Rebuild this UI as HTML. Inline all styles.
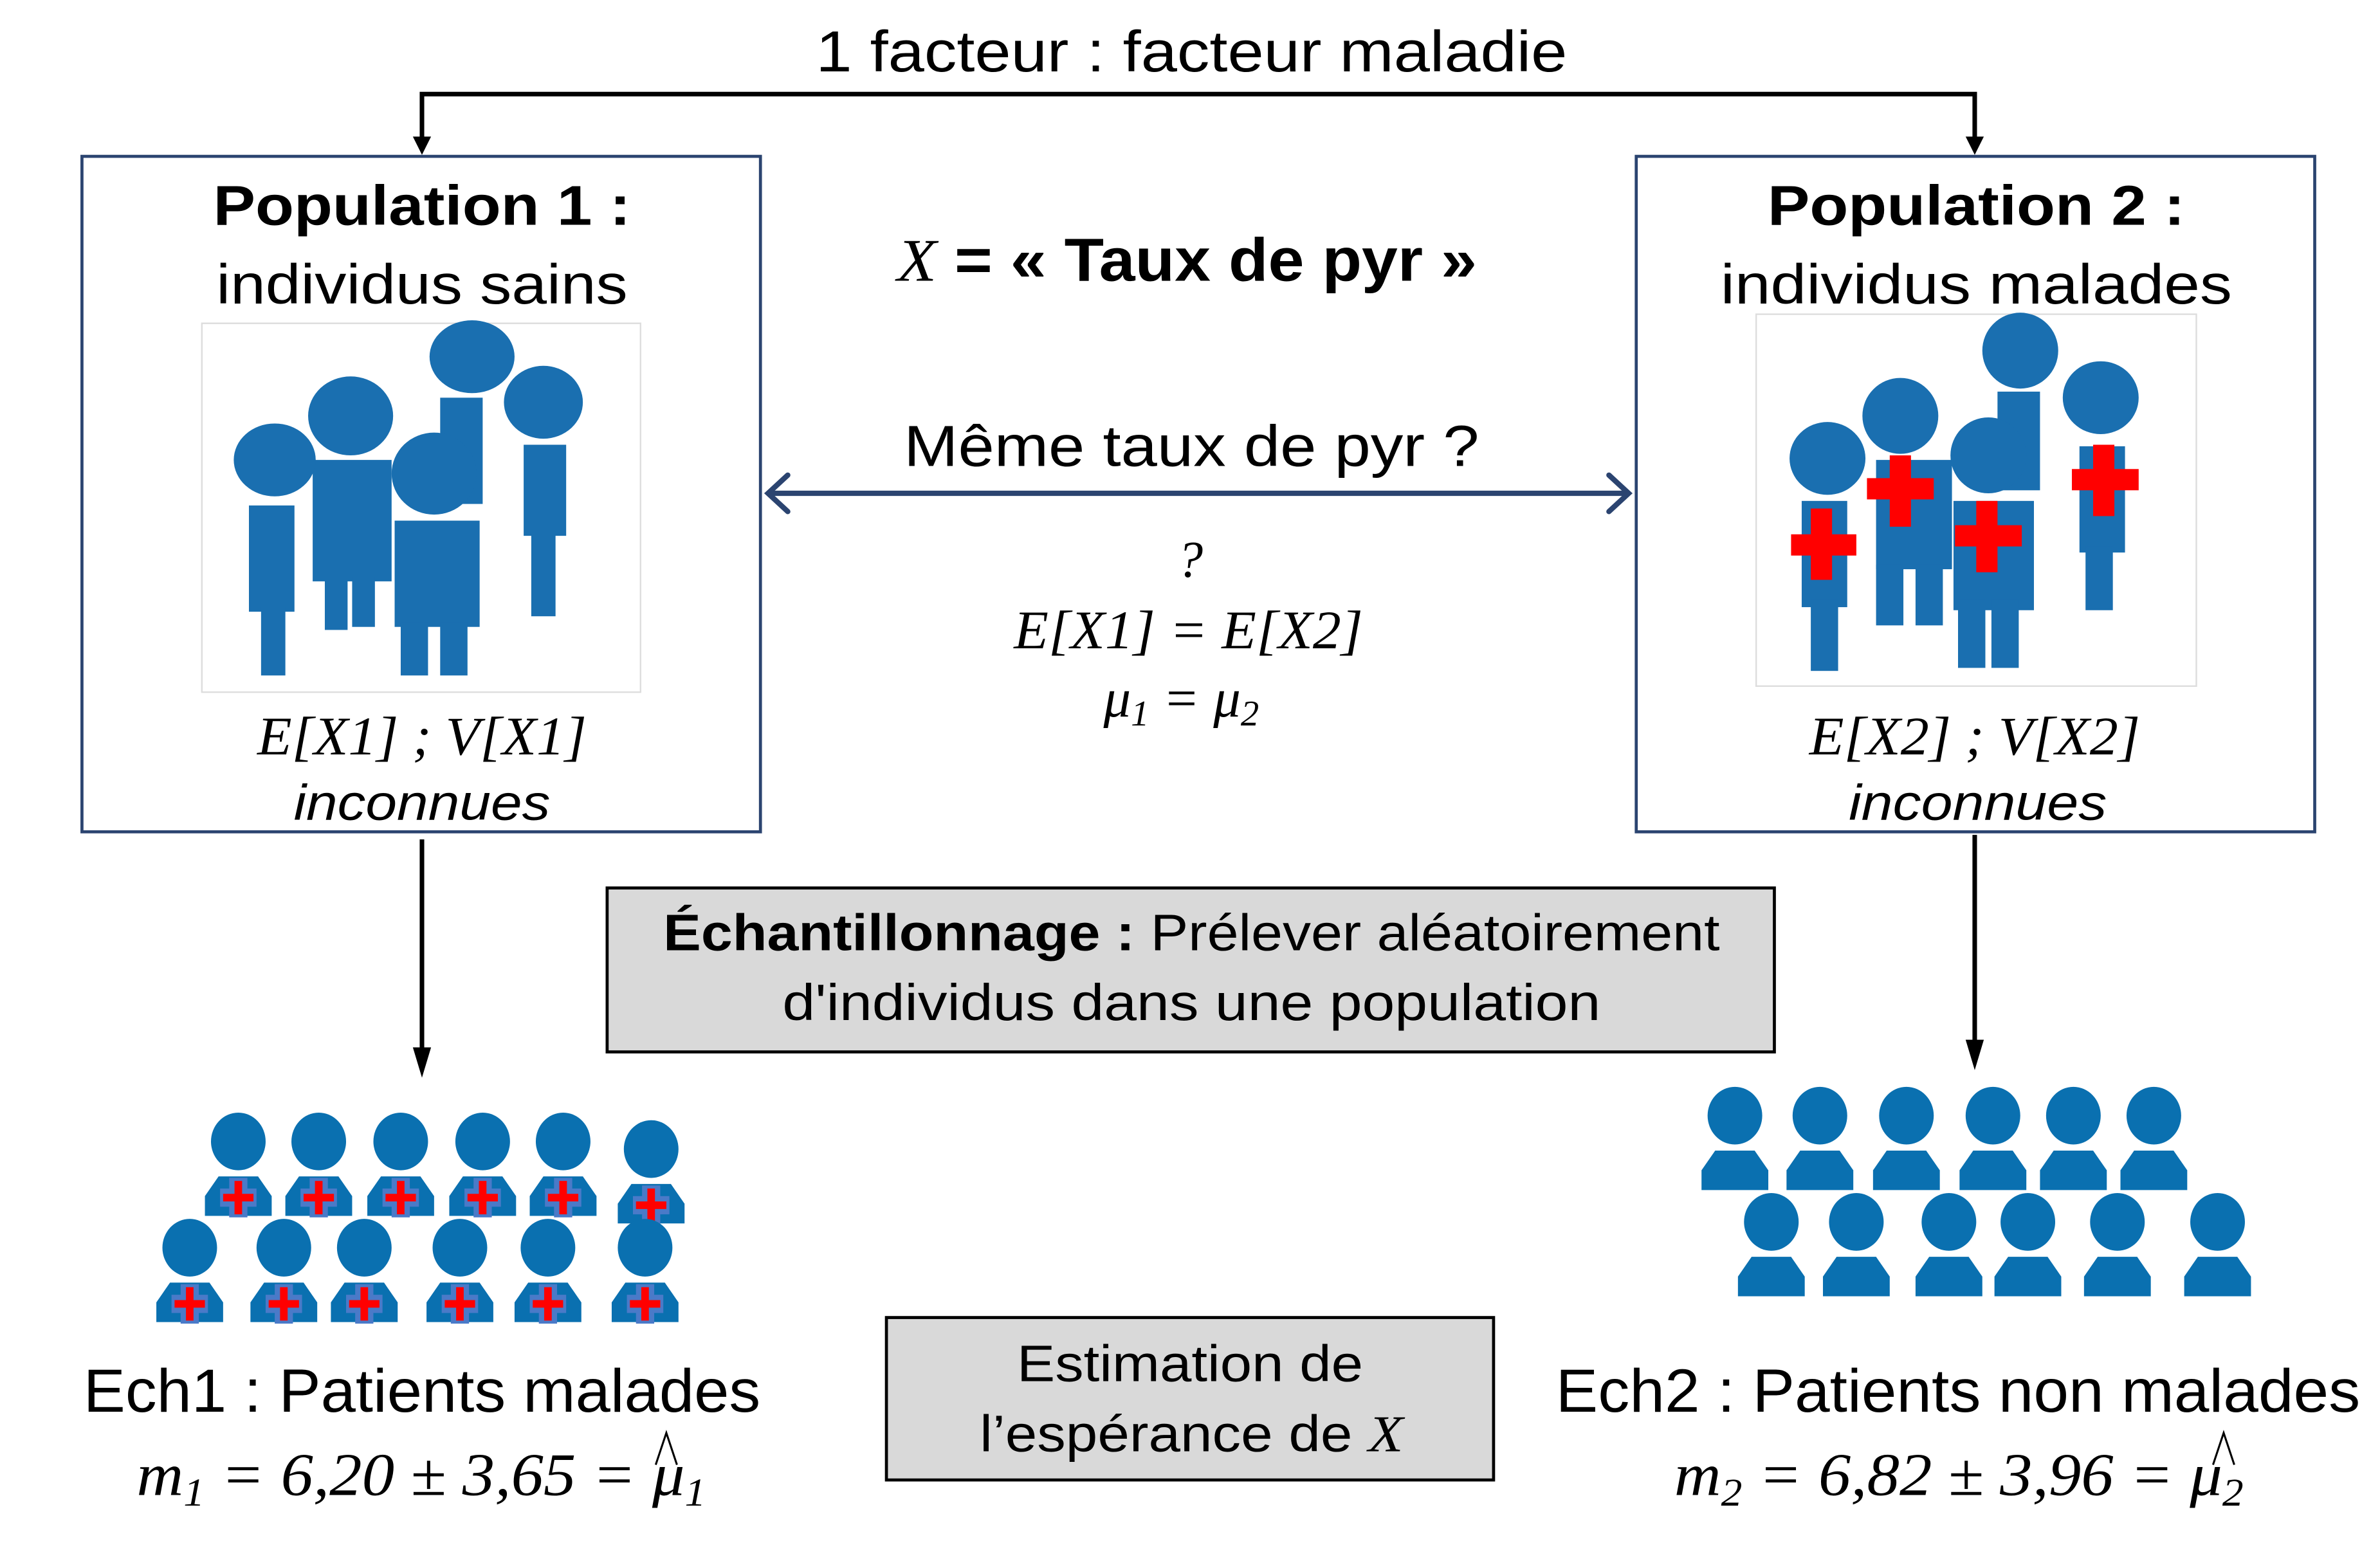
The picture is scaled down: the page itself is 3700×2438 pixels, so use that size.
<!DOCTYPE html>
<html><head><meta charset="utf-8"><style>
html,body{margin:0;padding:0;background:#fff;}
svg{display:block;}
.s{font-family:"Liberation Sans",sans-serif;}
.m{font-family:"Liberation Serif",serif;font-style:italic;}
</style></head><body>
<svg width="3700" height="2438" viewBox="0 0 1568 1033" preserveAspectRatio="none" xmlns="http://www.w3.org/2000/svg">
<defs>
<g id="p"><ellipse cx="0" cy="0" rx="18" ry="19" fill="#0a70b0"/><path d="M-13,23 L13,23 L22,36 L22,49 L-22,49 L-22,36 Z" fill="#0a70b0"/></g>
<g id="pc"><use href="#p"/><rect x="-6" y="24" width="12" height="26" fill="#4a7ac8"/><rect x="-12" y="31" width="24" height="12" fill="#4a7ac8"/><rect x="-2.5" y="26" width="5" height="22" fill="#f00"/><rect x="-10" y="34.5" width="20" height="5" fill="#f00"/></g>
</defs>
<rect width="1568" height="1033" fill="#fff"/>

<text x="785" y="47" class="s" font-size="38" text-anchor="middle" textLength="495" lengthAdjust="spacingAndGlyphs">1 facteur : facteur maladie</text>
<path d="M278,99 L278,62 L1301,62 L1301,99" fill="none" stroke="#000" stroke-width="3"/>
<path d="M272,90 L284,90 L278,102 Z M1295,90 L1307,90 L1301,102 Z" fill="#000"/>

<rect x="54" y="103" width="447" height="445" fill="none" stroke="#2b4470" stroke-width="2"/>
<rect x="1078" y="103" width="447" height="445" fill="none" stroke="#2b4470" stroke-width="2"/>

<text x="278" y="148" class="s" font-size="37" font-weight="bold" text-anchor="middle" textLength="275" lengthAdjust="spacingAndGlyphs">Population 1 :</text>
<text x="278" y="200" class="s" font-size="37" text-anchor="middle" textLength="271" lengthAdjust="spacingAndGlyphs">individus sains</text>
<text x="1302" y="148" class="s" font-size="37" font-weight="bold" text-anchor="middle" textLength="275" lengthAdjust="spacingAndGlyphs">Population 2 :</text>
<text x="1302" y="200" class="s" font-size="37" text-anchor="middle" textLength="337" lengthAdjust="spacingAndGlyphs">individus malades</text>

<rect x="133" y="213" width="289" height="243" fill="#fff" stroke="#ddd" stroke-width="1"/>
<g fill="#1a6fb0">
<ellipse cx="311" cy="235" rx="28" ry="24"/><rect x="290" y="262" width="28" height="70"/>
<ellipse cx="231" cy="274" rx="28" ry="26"/><rect x="206" y="303" width="52" height="80"/><rect x="214" y="380" width="15" height="35"/><rect x="232" y="380" width="15" height="33"/>
<ellipse cx="358" cy="265" rx="26" ry="24"/><rect x="345" y="293" width="28" height="60"/><rect x="350" y="350" width="16" height="56"/>
<ellipse cx="181" cy="303" rx="27" ry="24"/><rect x="164" y="333" width="30" height="70"/><rect x="172" y="400" width="16" height="45"/>
<ellipse cx="286" cy="312" rx="28" ry="27"/><rect x="260" y="343" width="56" height="70"/><rect x="264" y="410" width="18" height="35"/><rect x="290" y="410" width="18" height="35"/>
</g>

<rect x="1157" y="207" width="290" height="245" fill="#fff" stroke="#ddd" stroke-width="1"/>
<g fill="#1a6fb0">
<ellipse cx="1331" cy="231" rx="25" ry="25"/><rect x="1316" y="258" width="28" height="65"/>
<ellipse cx="1252" cy="274" rx="25" ry="25"/><rect x="1236" y="303" width="50" height="72"/><rect x="1236" y="372" width="18" height="40"/><rect x="1262" y="372" width="18" height="40"/>
<ellipse cx="1384" cy="262" rx="25" ry="24"/><rect x="1370" y="294" width="30" height="70"/><rect x="1374" y="360" width="18" height="42"/>
<ellipse cx="1204" cy="302" rx="25" ry="24"/><rect x="1187" y="330" width="30" height="70"/><rect x="1193" y="395" width="18" height="47"/>
<ellipse cx="1310" cy="300" rx="25" ry="25"/><rect x="1287" y="330" width="53" height="72"/><rect x="1290" y="395" width="18" height="45"/><rect x="1312" y="395" width="18" height="45"/>
</g>
<g fill="#f00">
<rect x="1193" y="335" width="14" height="47"/><rect x="1180" y="352" width="43" height="14"/>
<rect x="1245" y="300" width="14" height="47"/><rect x="1230" y="315" width="44" height="14"/>
<rect x="1302" y="330" width="14" height="47"/><rect x="1288" y="346" width="44" height="14"/>
<rect x="1379" y="293" width="14" height="47"/><rect x="1365" y="309" width="44" height="14"/>
</g>

<text x="278" y="497" class="m" font-size="36" text-anchor="middle" textLength="217" lengthAdjust="spacingAndGlyphs">E[X1] ; V[X1]</text>
<text x="278" y="540" class="s" font-size="33" font-style="italic" text-anchor="middle" textLength="169" lengthAdjust="spacingAndGlyphs">inconnues</text>
<text x="1301" y="497" class="m" font-size="36" text-anchor="middle" textLength="218" lengthAdjust="spacingAndGlyphs">E[X2] ; V[X2]</text>
<text x="1303" y="540" class="s" font-size="33" font-style="italic" text-anchor="middle" textLength="170" lengthAdjust="spacingAndGlyphs">inconnues</text>

<text x="591" y="185" font-size="40" textLength="382" lengthAdjust="spacingAndGlyphs"><tspan class="m">X</tspan><tspan class="s" font-weight="bold"> = « Taux de pyr »</tspan></text>
<text x="785" y="307" class="s" font-size="38" text-anchor="middle" textLength="379" lengthAdjust="spacingAndGlyphs">Même taux de pyr ?</text>
<line x1="506" y1="325" x2="1073" y2="325" stroke="#2b4470" stroke-width="3.5"/>
<path d="M519,313 L506,325 L519,337 M1060,313 L1073,325 L1060,337" fill="none" stroke="#2b4470" stroke-width="3.5" stroke-linecap="round"/>
<text x="784" y="380" class="m" font-size="34" text-anchor="middle">?</text>
<text x="783" y="427" class="m" font-size="36" text-anchor="middle" textLength="230" lengthAdjust="spacingAndGlyphs">E[X1] = E[X2]</text>
<text x="727" y="472" class="m" font-size="36">μ<tspan font-size="24" dy="6">1</tspan><tspan dy="-6"> = μ</tspan><tspan font-size="24" dy="6">2</tspan></text>

<line x1="278" y1="553" x2="278" y2="700" stroke="#000" stroke-width="3"/>
<path d="M272,690 L284,690 L278,710 Z" fill="#000"/>
<line x1="1301" y1="550" x2="1301" y2="695" stroke="#000" stroke-width="3"/>
<path d="M1295,685 L1307,685 L1301,705 Z" fill="#000"/>

<rect x="400" y="585" width="769" height="108" fill="#d9d9d9" stroke="#000" stroke-width="2"/>
<text x="785" y="626" class="s" font-size="34" text-anchor="middle" textLength="696" lengthAdjust="spacingAndGlyphs"><tspan font-weight="bold">Échantillonnage :</tspan> Prélever aléatoirement</text>
<text x="785" y="672" class="s" font-size="34" text-anchor="middle" textLength="539" lengthAdjust="spacingAndGlyphs">d'individus dans une population</text>
<rect x="584" y="868" width="400" height="107" fill="#d9d9d9" stroke="#000" stroke-width="2"/>
<text x="784" y="910" class="s" font-size="34" text-anchor="middle" textLength="228" lengthAdjust="spacingAndGlyphs">Estimation de</text>
<text x="785" y="956" font-size="34" text-anchor="middle" textLength="279" lengthAdjust="spacingAndGlyphs"><tspan class="s">l’espérance de </tspan><tspan class="m">X</tspan></text>

<use href="#pc" x="157" y="752"/><use href="#pc" x="210" y="752"/><use href="#pc" x="264" y="752"/><use href="#pc" x="318" y="752"/><use href="#pc" x="371" y="752"/><use href="#pc" x="429" y="757"/>
<use href="#pc" x="125" y="822"/><use href="#pc" x="187" y="822"/><use href="#pc" x="240" y="822"/><use href="#pc" x="303" y="822"/><use href="#pc" x="361" y="822"/><use href="#pc" x="425" y="822"/>
<use href="#p" x="1143" y="735"/><use href="#p" x="1199" y="735"/><use href="#p" x="1256" y="735"/><use href="#p" x="1313" y="735"/><use href="#p" x="1366" y="735"/><use href="#p" x="1419" y="735"/>
<use href="#p" x="1167" y="805"/><use href="#p" x="1223" y="805"/><use href="#p" x="1284" y="805"/><use href="#p" x="1336" y="805"/><use href="#p" x="1395" y="805"/><use href="#p" x="1461" y="805"/>

<text x="278" y="930" class="s" font-size="40" text-anchor="middle" textLength="446" lengthAdjust="spacingAndGlyphs">Ech1 : Patients malades</text>
<text x="90" y="985" class="m" font-size="40" textLength="375" lengthAdjust="spacingAndGlyphs">m<tspan font-size="26" dy="7">1</tspan><tspan dy="-7"> = 6,20 ± 3,65 = μ</tspan><tspan font-size="26" dy="7">1</tspan></text>
<path d="M432,965 L439,944 L446,965" fill="none" stroke="#000" stroke-width="1.3"/>
<text x="1290" y="930" class="s" font-size="40" text-anchor="middle" textLength="530" lengthAdjust="spacingAndGlyphs">Ech2 : Patients non malades</text>
<text x="1103" y="985" class="m" font-size="40" textLength="375" lengthAdjust="spacingAndGlyphs">m<tspan font-size="26" dy="7">2</tspan><tspan dy="-7"> = 6,82 ± 3,96 = μ</tspan><tspan font-size="26" dy="7">2</tspan></text>
<path d="M1458,965 L1465,944 L1472,965" fill="none" stroke="#000" stroke-width="1.3"/>
</svg>
</body></html>
